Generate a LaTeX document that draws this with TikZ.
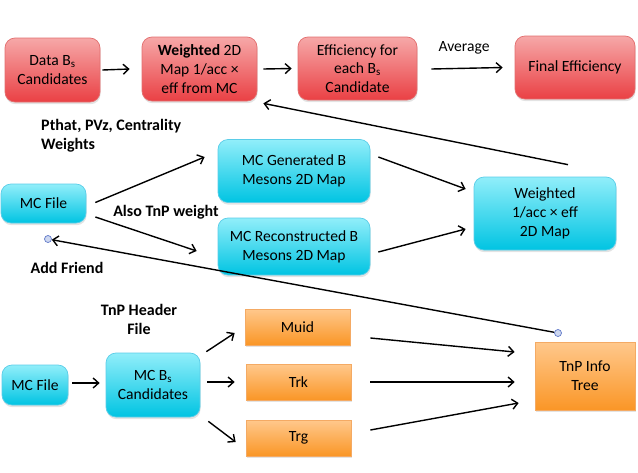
\documentclass[tikz,border=0pt]{standalone}
\usepackage{fontspec}
\setmainfont{Carlito}
\usetikzlibrary{arrows.meta,calc,shadows}
\definecolor{rtop}{RGB}{246,168,168}
\definecolor{rbot}{RGB}{234,64,68}
\definecolor{rdraw}{RGB}{226,110,110}
\definecolor{ctop}{RGB}{145,238,250}
\definecolor{cbot}{RGB}{0,196,226}
\definecolor{cdraw}{RGB}{90,205,232}
\definecolor{otop}{RGB}{255,200,140}
\definecolor{obot}{RGB}{250,150,38}
\definecolor{odraw}{RGB}{244,170,100}
\definecolor{pfill}{RGB}{205,215,240}
\definecolor{pdraw}{RGB}{95,120,200}
\tikzset{
  shad/.style={drop shadow={opacity=0.22,shadow xshift=0.6pt,shadow yshift=-2.2pt}},
  redbox/.style={shad,rounded corners=10pt,top color=rtop,bottom color=rbot,draw=rdraw,line width=0.7pt,align=center,inner sep=0pt},
  cyanbox/.style={shad,rounded corners=10pt,top color=ctop,bottom color=cbot,draw=cdraw,line width=0.7pt,align=center,inner sep=0pt},
  orangebox/.style={shad,top color=otop,bottom color=obot,draw=odraw,line width=0.7pt,align=center,inner sep=0pt},
  arr/.style={line width=1.4pt,-{Straight Barb[length=5.5pt,width=10pt,line width=1.4pt]}},
  lbl/.style={font=\fontsize{16}{19}\selectfont\bfseries,align=center,inner sep=0pt},
  pin/.style={circle,fill=pfill,draw=pdraw,line width=0.7pt,minimum size=7pt,inner sep=0pt}
}
\begin{document}
\begin{tikzpicture}[x=1pt,y=-1pt,font=\fontsize{15.6}{18.8}\selectfont]
\useasboundingbox (0,0) rectangle (638,472);
% top row
\node[redbox,minimum width=95pt,minimum height=64pt] (data) at (52.5,70) {Data B\textsubscript{s}\\Candidates};
\node[redbox,minimum width=115pt,minimum height=64pt] (wmap) at (199.5,69) {\textbf{Weighted} 2D\\Map 1/acc ×\\eff from MC};
\node[redbox,minimum width=119pt,minimum height=63pt] (eff) at (357.5,68.5) {Efficiency for\\each B\textsubscript{s}\\Candidate};
\node[redbox,minimum width=120pt,minimum height=63pt] (final) at (575,67.5) {Final Efficiency};
\node[inner sep=0pt] (avg) at (464,48) {Average};
% middle
\node[cyanbox,minimum width=85pt,minimum height=39pt] (mcf1) at (43.5,203.5) {MC File};
\node[cyanbox,minimum width=152pt,minimum height=63pt] (mcgen) at (294,171) {MC Generated B\\Mesons 2D Map};
\node[cyanbox,minimum width=152pt,minimum height=57pt] (mcreco) at (294,246.5) {MC Reconstructed B\\Mesons 2D Map};
\node[cyanbox,minimum width=142pt,minimum height=73pt] (wmap2) at (545,213.5) {Weighted\\1/acc × eff\\2D Map};
\node[lbl,align=left,anchor=west] (pthat) at (41,135.5) {Pthat, PVz, Centrality\\Weights};
\node[lbl] (tnpw) at (166,212) {Also TnP weight};
\node[lbl] (friend) at (67,268) {Add Friend};
\node[pin] (pin1) at (48,239) {};
% bottom
\node[lbl] (hdr) at (139,319.5) {TnP Header\\File};
\node[cyanbox,minimum width=66pt,minimum height=40pt] (mcf2) at (35,385) {MC File};
\node[cyanbox,minimum width=94pt,minimum height=64pt] (mcbs) at (153,385) {MC B\textsubscript{s}\\Candidates};
\node[orangebox,minimum width=105pt,minimum height=36pt] (muid) at (297.5,327) {Muid};
\node[orangebox,minimum width=105pt,minimum height=36pt] (trk) at (298.5,382) {Trk};
\node[orangebox,minimum width=105pt,minimum height=36pt] (trg) at (298.5,438) {Trg};
\node[orangebox,minimum width=100pt,minimum height=68pt] (tnp) at (585,376) {TnP Info\\Tree};
\node[pin] (pin2) at (558,333) {};
% connectors top
\draw[arr] ([xshift=2pt]data.east) -- ([xshift=-12pt]wmap.west);
\draw[arr] ([xshift=6pt]wmap.east) -- ([xshift=-6pt]eff.west);
\draw[arr] ([xshift=14pt,yshift=-0.5pt]eff.east) -- ([xshift=-12pt]final.west);
\draw[arr] ($(wmap2.north)+(23,-12)$) -- ($(wmap.south east)+(6,2)$);
% middle connectors
\draw[arr] ($(mcf1.east)+(9,-1)$) -- ($(mcgen.west)+(-13,-14)$);
\draw[arr] ($(mcf1.east)+(9,13.5)$) -- ($(mcreco.west)+(-21,4.5)$);
\draw[arr] ($(mcgen.east)+(8,-14)$) -- ($(wmap2.west)+(-8,-24.5)$);
\draw[arr] ($(mcreco.east)+(8,5.5)$) -- ($(wmap2.west)+(-8,15.5)$);
\draw[arr] (pin2) -- (pin1);
% bottom connectors
\draw[arr] ($(mcf2.east)+(4,-2)$) -- ($(mcbs.west)+(-6,-2)$);
\draw[arr] ($(mcbs.north east)+(6,-1)$) -- ($(muid.west)+(-10,6)$);
\draw[arr] ($(mcbs.east)+(7,-3)$) -- ($(trk.west)+(-11,0)$);
\draw[arr] ($(mcbs.south east)+(8,4)$) -- ($(trg.west)+(-10,4)$);
\draw[arr] ($(muid.east)+(20,11)$) -- ($(tnp.west)+(-20,-24)$);
\draw[arr] ($(trk.east)+(19,0)$) -- ($(tnp.west)+(-20,6)$);
\draw[arr] ($(trg.east)+(19,-8)$) -- ($(tnp.west)+(-16,27)$);
\end{tikzpicture}
\end{document}
